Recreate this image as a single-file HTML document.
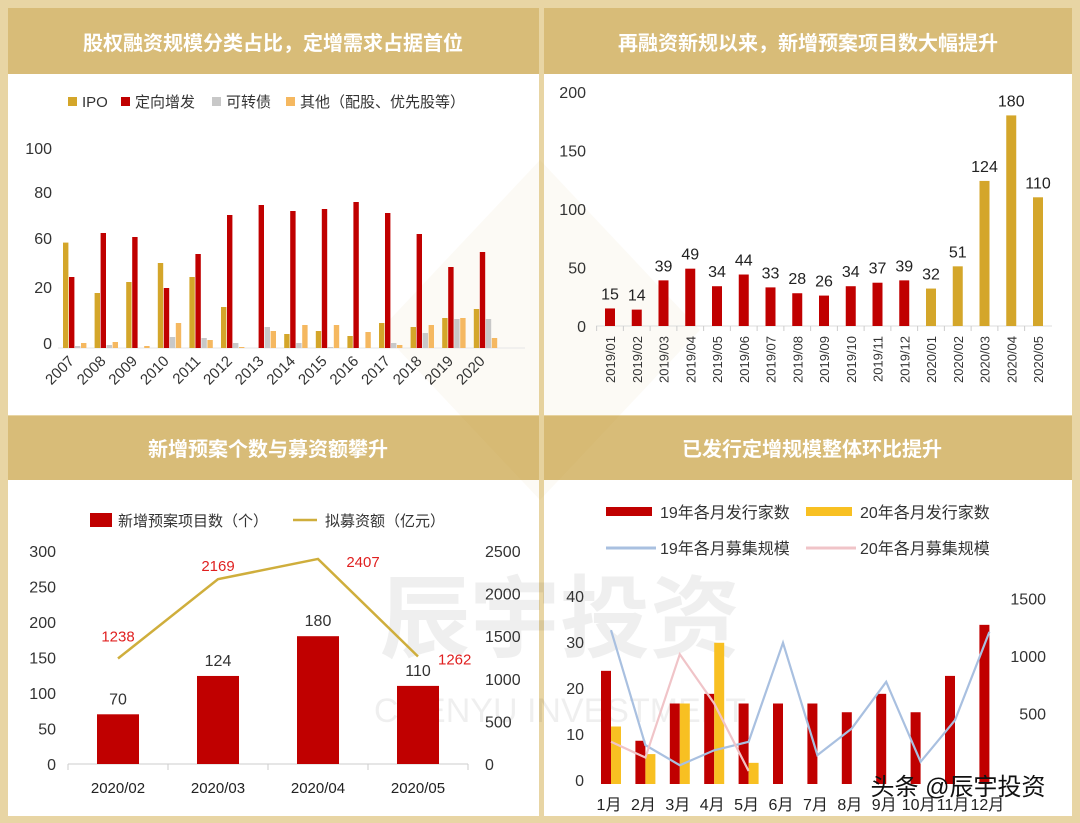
<!DOCTYPE html>
<html><head><meta charset="utf-8"><style>
body{margin:0;background:#fff}
svg{display:block;font-family:"Liberation Sans","Noto Sans CJK SC",sans-serif}
</style></head><body>
<svg id="s" width="1080" height="823" viewBox="0 0 1080 823">
<rect x="0" y="0" width="1080" height="823" fill="#e8d5a4"/>
<rect x="8" y="8" width="531" height="407" fill="#fff"/>
<rect x="544" y="8" width="528" height="407" fill="#fff"/>
<rect x="8" y="418" width="531" height="398" fill="#fff"/>
<rect x="544" y="418" width="528" height="398" fill="#fff"/>
<rect x="8" y="8" width="531" height="66" fill="#d8bc78"/>
<rect x="544" y="8" width="528" height="66" fill="#d8bc78"/>
<rect x="8" y="416" width="531" height="64" fill="#d8bc78"/>
<rect x="544" y="416" width="528" height="64" fill="#d8bc78"/>
<g fill="#fff" font-size="20" font-weight="bold" text-anchor="middle">
<text x="273" y="50">股权融资规模分类占比，定增需求占据首位</text>
<text x="808" y="50">再融资新规以来，新增预案项目数大幅提升</text>
<text x="268" y="456">新增预案个数与募资额攀升</text>
<text x="812" y="456">已发行定增规模整体环比提升</text>
</g>
<g opacity="0.05" fill="#c8a040">
<polygon points="540,160 700,330 540,500 380,330"/>
</g>
<text x="560" y="650" font-size="90" font-weight="bold" fill="#000" opacity="0.06" text-anchor="middle">辰宇投资</text>
<text x="560" y="722" font-size="34" fill="#000" opacity="0.06" text-anchor="middle">CHENYU INVESTMENT</text>
<g id="c1"></g><g id="c2"></g><g id="c3"></g><g id="c4"></g>
<text x="958" y="795" font-size="24" fill="#111" text-anchor="middle">头条 @辰宇投资</text>
</svg>
<script>
// Chart 1 data
const c1Years=["2007","2008","2009","2010","2011","2012","2013","2014","2015","2016","2017","2018","2019","2020"];
const c1IPO=[52.7,27.5,33,42.5,35.5,20.5,0,7,8.5,6,12.5,10.5,15,19.5];
const c1Private=[35.5,57.5,55.5,30,47,66.5,71.5,68.5,69.5,73,67.5,57,40.5,48];
const c1Convert=[1,1.5,0,5.5,5,2.5,10.5,2.5,0.5,0,2.5,7.5,14.5,14.5];
const c1Other=[2.5,3,1,12.5,4,0.5,8.5,11.5,11.5,8,1.5,11.5,15,5];
const c1Ticks=["0","20","60","80","100"];
const c1TickY=[343,287,238,192,148];
// Chart 2 data
const c2Months=["2019/01","2019/02","2019/03","2019/04","2019/05","2019/06","2019/07","2019/08","2019/09","2019/10","2019/11","2019/12","2020/01","2020/02","2020/03","2020/04","2020/05"];
const c2Values=[15,14,39,49,34,44,33,28,26,34,37,39,32,51,124,180,110];
const c2Ticks=[0,50,100,150,200];
// Chart 3 data
const c3Months=["2020/02","2020/03","2020/04","2020/05"];
const c3Count=[70,124,180,110];
const c3Amount=[1238,2169,2407,1262];
const c3LeftTicks=[0,50,100,150,200,250,300];
const c3RightTicks=[0,500,1000,1500,2000,2500];
// Chart 4 data
const c4Months=["1月","2月","3月","4月","5月","6月","7月","8月","9月","10月","11月","12月"];
const c4Count19=[24.6,9.4,17.5,19.6,17.5,17.5,17.5,15.6,19.6,15.6,23.5,34.6];
const c4Count20=[12.5,6.5,17.5,30.7,4.6];
const c4Scale19=[1225,225,50,180,254,1115,138,370,775,80,442,1210];
const c4Scale20=[254,117,1015,587,0];
const c4LeftTicks=[0,10,20,30,40];
const c4RightTicks=[500,1000,1500];

const NS="http://www.w3.org/2000/svg";
function mk(parent,tag,attrs,text){const e=document.createElementNS(NS,tag);for(const k in attrs)e.setAttribute(k,attrs[k]);if(text!==undefined)e.textContent=text;parent.appendChild(e);return e;}

// ---------- Chart 1 ----------
(function(){
const g=document.getElementById('c1');
const y=v=>348-v*2;
const x0=63,step=31.6,bw=5.4;
const series=[[c1IPO,"#d4a62a"],[c1Private,"#c00000"],[c1Convert,"#c8c8c8"],[c1Other,"#f5b860"]];
mk(g,'line',{x1:58,x2:525,y1:348,y2:348,stroke:"#e6e6e6"});
c1Ticks.forEach((t,i)=>{const e=mk(g,'text',{x:52,y:c1TickY[i]+6,'font-size':16,'text-anchor':'end',fill:'#333'},t);

});
c1Years.forEach((yr,i)=>{
 series.forEach((s,j)=>{const v=s[0][i];const r=mk(g,'rect',{x:x0+i*step+j*(bw+0.6),y:y(v),width:bw,height:v*2,fill:s[1]});
 
 });
 const cx=x0+i*step+12;
 const t=mk(g,'text',{x:cx,y:362,'font-size':15,'text-anchor':'end',fill:'#333',transform:`rotate(-45 ${cx} 362)`},yr);
 
 
});
const leg=[["IPO","#d4a62a",68],["定向增发","#c00000",121],["可转债","#c8c8c8",212],["其他（配股、优先股等）","#f5b860",286]];
leg.forEach(l=>{const r=mk(g,'rect',{x:l[2],y:97,width:9,height:9,fill:l[1]});


const t=mk(g,'text',{x:l[2]+14,y:107,'font-size':15,fill:'#333'},l[0]);

});
})();

// ---------- Chart 2 ----------
(function(){
const g=document.getElementById('c2');
const y=v=>326-v*1.17;
const x0=610,step=26.75,bw=10;
mk(g,'line',{x1:596,x2:1052,y1:326,y2:326,stroke:"#ddd"});
c2Ticks.forEach(t=>{const e=mk(g,'text',{x:586,y:y(t)+6,'font-size':16,'text-anchor':'end',fill:'#333'},t);

});
c2Months.forEach((m,i)=>{
 const cx=x0+i*step,v=c2Values[i];
 mk(g,'line',{x1:cx-step/2,x2:cx-step/2,y1:326,y2:331,stroke:'#ccc'});
 const r=mk(g,'rect',{x:cx-bw/2,y:y(v),width:bw,height:v*1.17,fill:m.startsWith("2019")?"#c00000":"#d4a62a"});
 
 
 const vt=mk(g,'text',{x:cx,y:y(v)-9,'font-size':16,'text-anchor':'middle',fill:'#222'},v);
 
 
 const t=mk(g,'text',{x:cx+5,y:336,'font-size':13,'text-anchor':'end',fill:'#333',transform:`rotate(-90 ${cx+5} 336)`},m);
 
 
});
})();

// ---------- Chart 3 ----------
(function(){
const g=document.getElementById('c3');
const yl=v=>764-v*0.71, yr=v=>764-v*0.0852;
const xs=i=>118+i*100;
mk(g,'line',{x1:68,x2:468,y1:764,y2:764,stroke:"#ccc"});
for(let i=0;i<=4;i++)mk(g,'line',{x1:68+i*100,x2:68+i*100,y1:764,y2:770,stroke:"#ccc"});
c3LeftTicks.forEach(t=>{const e=mk(g,'text',{x:56,y:yl(t)+6,'font-size':16,'text-anchor':'end',fill:'#333'},t);

});
c3RightTicks.forEach(t=>{const e=mk(g,'text',{x:485,y:yr(t)+6,'font-size':16,'text-anchor':'start',fill:'#333'},t);

});
c3Months.forEach((m,i)=>{
 const v=c3Count[i];
 const r=mk(g,'rect',{x:xs(i)-21,y:yl(v),width:42,height:v*0.71,fill:'#c00000'});
 
 
 const vt=mk(g,'text',{x:xs(i),y:yl(v)-10,'font-size':16,'text-anchor':'middle',fill:'#333'},v);
 
 
 const t=mk(g,'text',{x:xs(i),y:793,'font-size':15,'text-anchor':'middle',fill:'#222'},m);
 
 
});
const pts=c3Amount.map((v,i)=>xs(i)+','+yr(v)).join(' ');
const pl=mk(g,'polyline',{points:pts,fill:'none',stroke:'#cfae3c','stroke-width':2.5});


const off=[[0,-17,'middle'],[0,-8,'middle'],[45,8,'middle'],[20,8,'start']];
c3Amount.forEach((v,i)=>{const t=mk(g,'text',{x:xs(i)+off[i][0],y:yr(v)+off[i][1],'font-size':15,'text-anchor':off[i][2],fill:'#e02020'},v);

});
const r=mk(g,'rect',{x:90,y:513,width:22,height:14,fill:'#c00000'});


const t1=mk(g,'text',{x:118,y:526,'font-size':15,fill:'#333'},"新增预案项目数（个）");


const l=mk(g,'line',{x1:293,x2:317,y1:520,y2:520,stroke:'#cfae3c','stroke-width':2.5});


const t2=mk(g,'text',{x:325,y:526,'font-size':15,fill:'#333'},"拟募资额（亿元）");


})();

// ---------- Chart 4 ----------
(function(){
const g=document.getElementById('c4');
const yl=v=>784-v*4.6, yr=v=>771-v*0.115;
const xc=i=>611+i*34.4;
c4LeftTicks.forEach(t=>{const e=mk(g,'text',{x:584,y:yl(t)+2,'font-size':16,'text-anchor':'end',fill:'#333'},t);

});
c4RightTicks.forEach(t=>{const e=mk(g,'text',{x:1046,y:yr(t)+6,'font-size':16,'text-anchor':'end',fill:'#333'},t);

});
c4Months.forEach((m,i)=>{
 const v=c4Count19[i];
 const r=mk(g,'rect',{x:xc(i)-10,y:yl(v),width:10,height:v*4.6,fill:'#c00000'});
 
 
 const t=mk(g,'text',{x:xc(i)-2,y:810,'font-size':16,'text-anchor':'middle',fill:'#222'},m);
 
 
});
c4Count20.forEach((v,i)=>{const r=mk(g,'rect',{x:xc(i),y:yl(v),width:10,height:v*4.6,fill:'#f8c022'});

});
const p19=mk(g,'polyline',{points:c4Scale19.map((v,i)=>xc(i)+','+yr(v)).join(' '),fill:'none',stroke:'#a9c0e0','stroke-width':2.2});


const p20=mk(g,'polyline',{points:c4Scale20.map((v,i)=>xc(i)+','+yr(v)).join(' '),fill:'none',stroke:'#f0c4c8','stroke-width':2.2});


const leg=[["19年各月发行家数","#c00000",606,512,'rect'],["20年各月发行家数","#f8c022",806,512,'rect'],["19年各月募集规模","#a9c0e0",606,548,'line'],["20年各月募集规模","#f0c4c8",806,548,'line']];
leg.forEach(l=>{
 let s;
 if(l[4]==='rect')s=mk(g,'rect',{x:l[2],y:l[3]-5,width:46,height:9,fill:l[1]});
 else s=mk(g,'line',{x1:l[2],x2:l[2]+50,y1:l[3],y2:l[3],stroke:l[1],'stroke-width':3});
 
 
 const t=mk(g,'text',{x:l[2]+54,y:l[3]+6,'font-size':16,fill:'#333'},l[0]);
 
 
});
})();
</script>
</body></html>
